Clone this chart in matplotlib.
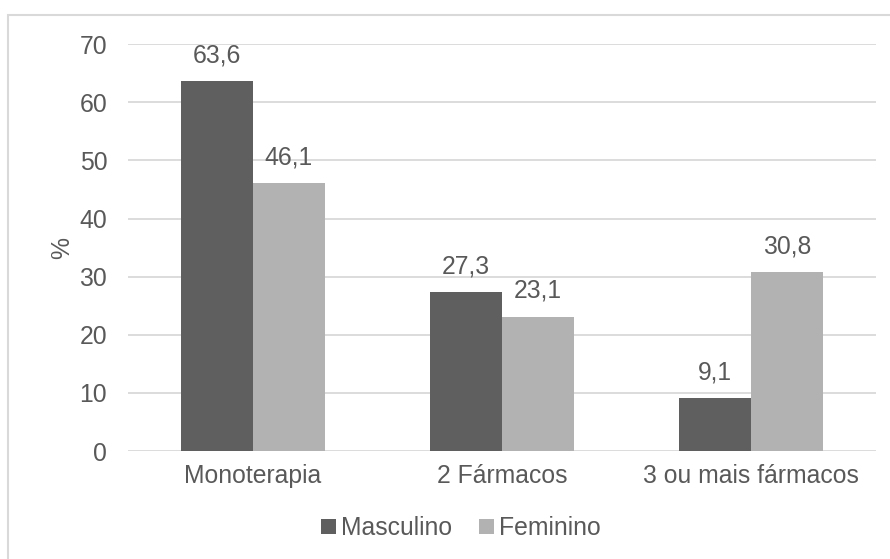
import matplotlib.pyplot as plt
from matplotlib.patches import Rectangle
import numpy as np

categories = ["Monoterapia", "2 Fármacos", "3 ou mais fármacos"]
masculino = [63.6, 27.3, 9.1]
feminino = [46.1, 23.1, 30.8]
series_names = ["Masculino", "Feminino"]

plt.rcParams['font.family'] = ['Liberation Sans', 'DejaVu Sans']
text_color = "#595959"
dark = "#5f5f5f"
light = "#b2b2b2"
fs = 17.8

fig = plt.figure(figsize=(8.9, 5.59), dpi=100)
ax = fig.add_axes([0.1438, 0.193, 0.8402, 0.728])

# outer chart frame (only top and left edges fall inside the image)
fig.patches.append(Rectangle((8 / 890, -0.1), 1.1, 1 - 15 / 559 + 0.1,
                             transform=fig.transFigure, fill=False,
                             edgecolor="#d9d9d9", linewidth=1.5))

x = np.arange(len(categories))
w = 0.289
b1 = ax.bar(x - w / 2, masculino, w, color=dark, label=series_names[0], zorder=3)
b2 = ax.bar(x + w / 2, feminino, w, color=light, label=series_names[1], zorder=3)

for bars in (b1, b2):
    for rect in bars:
        v = rect.get_height()
        ax.annotate(f"{v:.1f}".replace(".", ","),
                    (rect.get_x() + rect.get_width() / 2, v),
                    xytext=(0, 10), textcoords="offset points",
                    ha="center", va="bottom", fontsize=fs, color=text_color)

ax.set_xlim(-0.5, 2.5)
ax.set_ylim(0, 70)
ax.set_yticks(range(0, 71, 10))
ax.set_xticks(x)
ax.set_xticklabels(categories)
ax.tick_params(axis="both", length=0, labelsize=fs, labelcolor=text_color)
ax.tick_params(axis="y", pad=15)
ax.tick_params(axis="x", pad=9)
ax.grid(axis="y", color="#d9d9d9", linewidth=1.3, zorder=0)
for s in ax.spines.values():
    s.set_visible(False)
ax.set_ylabel("%", fontsize=fs, color=text_color, labelpad=4)

fig.legend(loc="center", bbox_to_anchor=(0.518, 0.055), ncol=2, frameon=False,
           fontsize=fs, labelcolor=text_color, handlelength=0.6,
           handleheight=0.6, handletextpad=0.2, columnspacing=1.1)

fig.savefig("out.png", dpi=100)
